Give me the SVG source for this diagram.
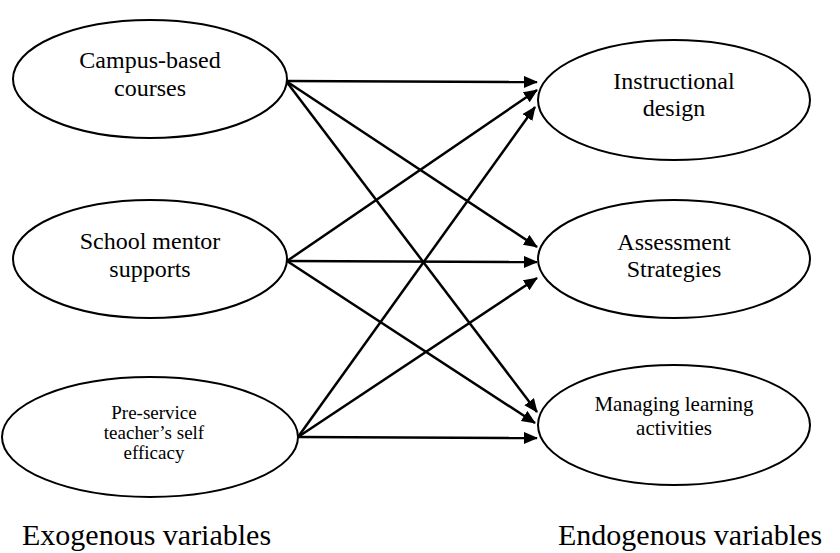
<svg xmlns="http://www.w3.org/2000/svg" width="840" height="553" viewBox="0 0 840 553">
<defs>
<marker id="ah" markerWidth="15" markerHeight="13" refX="13" refY="6" orient="auto" markerUnits="userSpaceOnUse">
<path d="M0,0 L14,6 L0,12 z" fill="#000"/>
</marker>
</defs>
<rect width="840" height="553" fill="#fff"/>
<g id="edges" stroke="#000" stroke-width="2.5">
<line x1="286" y1="81" x2="537" y2="82" marker-end="url(#ah)"/>
<line x1="286" y1="81" x2="537" y2="247" marker-end="url(#ah)"/>
<line x1="286" y1="81" x2="537" y2="412" marker-end="url(#ah)"/>
<line x1="287" y1="261" x2="537" y2="90" marker-end="url(#ah)"/>
<line x1="287" y1="261" x2="537" y2="262" marker-end="url(#ah)"/>
<line x1="287" y1="261" x2="535" y2="423" marker-end="url(#ah)"/>
<line x1="298" y1="437" x2="535" y2="107" marker-end="url(#ah)"/>
<line x1="298" y1="437" x2="537" y2="278" marker-end="url(#ah)"/>
<line x1="298" y1="437" x2="537" y2="438" marker-end="url(#ah)"/>
</g>
<g id="campus">
<ellipse cx="150" cy="79" rx="137" ry="59" fill="#fff" stroke="#000" stroke-width="2"/>
<text x="150" y="68" font-family="Liberation Serif, serif" font-size="24" text-anchor="middle">Campus-based</text>
<text x="150" y="96" font-family="Liberation Serif, serif" font-size="24" text-anchor="middle">courses</text>
</g>
<g id="mentor">
<ellipse cx="150" cy="259" rx="137" ry="59" fill="#fff" stroke="#000" stroke-width="2"/>
<text x="150" y="249" font-family="Liberation Serif, serif" font-size="24" text-anchor="middle">School mentor</text>
<text x="150" y="277" font-family="Liberation Serif, serif" font-size="24" text-anchor="middle">supports</text>
</g>
<g id="efficacy">
<ellipse cx="150" cy="437" rx="148" ry="60" fill="#fff" stroke="#000" stroke-width="2"/>
<text x="154" y="419" font-family="Liberation Serif, serif" font-size="19" text-anchor="middle">Pre-service</text>
<text x="154" y="439" font-family="Liberation Serif, serif" font-size="19" text-anchor="middle">teacher’s self</text>
<text x="154" y="459" font-family="Liberation Serif, serif" font-size="19" text-anchor="middle">efficacy</text>
</g>
<g id="instructional">
<ellipse cx="674" cy="100" rx="136" ry="60" fill="#fff" stroke="#000" stroke-width="2"/>
<text x="674" y="89" font-family="Liberation Serif, serif" font-size="24" text-anchor="middle">Instructional</text>
<text x="674" y="116" font-family="Liberation Serif, serif" font-size="24" text-anchor="middle">design</text>
</g>
<g id="assessment">
<ellipse cx="674" cy="259" rx="136" ry="59" fill="#fff" stroke="#000" stroke-width="2"/>
<text x="674" y="250" font-family="Liberation Serif, serif" font-size="24" text-anchor="middle">Assessment</text>
<text x="674" y="277" font-family="Liberation Serif, serif" font-size="24" text-anchor="middle">Strategies</text>
</g>
<g id="managing">
<ellipse cx="674" cy="425" rx="136" ry="60" fill="#fff" stroke="#000" stroke-width="2"/>
<text x="674" y="411" font-family="Liberation Serif, serif" font-size="21" text-anchor="middle">Managing learning</text>
<text x="674" y="435" font-family="Liberation Serif, serif" font-size="21" text-anchor="middle">activities</text>
</g>
<g id="labels">
<text x="22" y="545" font-family="Liberation Serif, serif" font-size="30">Exogenous variables</text>
<text x="558" y="545" font-family="Liberation Serif, serif" font-size="30">Endogenous variables</text>
</g>
</svg>
